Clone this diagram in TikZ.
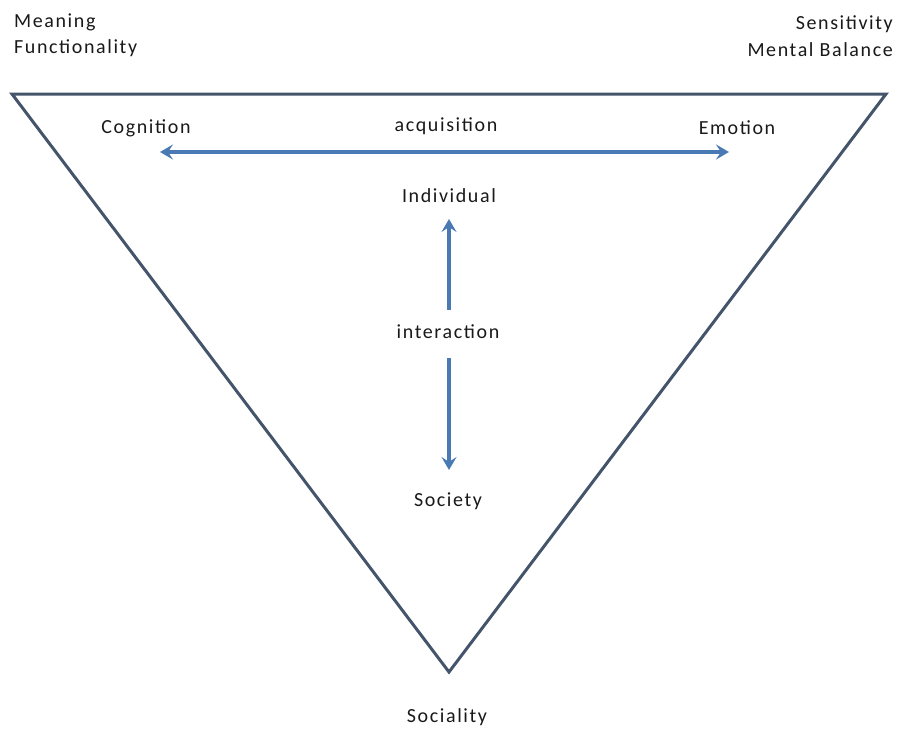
\documentclass[tikz,border=0pt]{standalone}
\usepackage{fontspec}
\setmainfont[LetterSpace=8]{Carlito}
\usetikzlibrary{positioning, arrows.meta}
\definecolor{edge}{HTML}{44546A}
\definecolor{arr}{HTML}{4A7AB3}
\tikzset{
  lbl/.style={font=\fontsize{20}{22}\selectfont, text=black!90, inner sep=0pt},
  dblarrow/.style={arr, line width=3.5pt, -{Stealth[length=13pt, width=15pt, inset=5pt]}},
}

\begin{document}
\begin{tikzpicture}[x=1pt, y=-1pt]
            \useasboundingbox (0,0) rectangle (897,729);
            % triangle
            \coordinate (TL) at (12,94);
            \coordinate (TR) at (886,94);
            \coordinate (B) at (449,672);
            \draw[edge, line width=3pt, line join=miter] (TL) -- (TR) -- (B) -- cycle;
            % corner labels
            \node[lbl, anchor=west] (meaning) at (14,22) {Meaning};
            \node[lbl, anchor=west] (func) at (14,48) {Functionality};
            \node[lbl, anchor=east] (sens) at (893,24) {Sensitivity};
            \node[lbl, anchor=east] (mental) at (893,50) {Mental Balance};
            % inside labels
            \node[lbl] (cog) at (146,128) {Cognition};
            \node[lbl] (acq) at (446,126) {acquisition};
            \node[lbl] (emo) at (737,128) {Emotion};
            \node[lbl] (indiv) at (449,196) {Individual};
            \node[lbl] (inter) at (448,332) {interaction};
            \node[lbl] (soc) at (448,501) {Society};
            \node[lbl] (socia) at (447,717) {Sociality};
            % arrows
            \coordinate (hmid) at (445,152);
            \coordinate (hl) at (160,152);
            \coordinate (hr) at (729,152);
            \draw[dblarrow] (hmid) -- (hl);
            \draw[dblarrow] (hmid) -- (hr);
            \coordinate (up) at (449,219);
            \coordinate (upstart) at (449,310);
            \coordinate (dn) at (449,470);
            \coordinate (dnstart) at (449,358);
            \draw[dblarrow] (upstart) -- (up);
            \draw[dblarrow] (dnstart) -- (dn);
        \end{tikzpicture}
\end{document}
